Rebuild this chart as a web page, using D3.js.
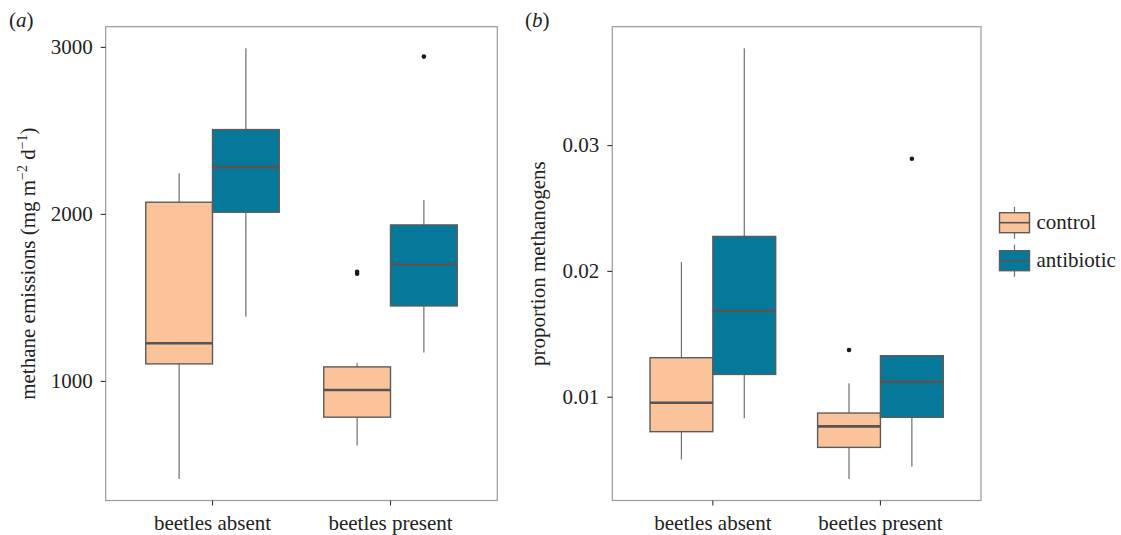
<!DOCTYPE html>
<html>
<head>
<meta charset="utf-8">
<script src="https://cdn.jsdelivr.net/npm/d3@7"></script>
<style>
    body { margin: 0; background: #fff; }
    svg text { font-family: "Liberation Serif", "Times New Roman", serif; fill: #222; }
</style>
</head>
<body>
<svg id="chart" width="1121" height="535"></svg>
<script>
// categories on the x axis and the two treatments (dodged boxes)
const categories = ['beetles absent', 'beetles present'];
const treatments = ['control', 'antibiotic'];
const treatmentColors = ['#fac39a', '#067899'];

// box stats per category: [lower whisker, Q1, median, Q3, upper whisker]
const methaneControlStats = [[413, 1102, 1226, 2070, 2244], [613, 783, 946, 1084, 1106]];
const methaneAntibioticStats = [[1385, 2010, 2280, 2505, 2992], [1170, 1449, 1696, 1934, 2084]];
const methaneControlOutliers = [[], [1654, 1642]];
const methaneAntibioticOutliers = [[], [2942]];
const methaneTicks = [1000, 2000, 3000];

const methanogenControlStats = [[0.0050, 0.00722, 0.00952, 0.0131, 0.0207], [0.00346, 0.00597, 0.00764, 0.0087, 0.01106]];
const methanogenAntibioticStats = [[0.00828, 0.01177, 0.01681, 0.02274, 0.0377], [0.00446, 0.00836, 0.01119, 0.01326, 0.01329]];
const methanogenControlOutliers = [[], [0.01371]];
const methanogenAntibioticOutliers = [[], [0.02892]];
const methanogenTicks = [0.01, 0.02, 0.03];

const svg = d3.select('#chart');

// draw one boxplot panel
function drawPanel(p) {
    const g = svg.append('g');
    const stats = [p.controlStats, p.antibioticStats];
    const outliers = [p.controlOutliers, p.antibioticOutliers];

    // ggplot-like 5% expansion of the data range
    const allVals = stats.flat(2).concat(outliers.flat(2));
    const lo = d3.min(allVals), hi = d3.max(allVals);
    const pad = (hi - lo) * 0.05;

    const y = d3.scaleLinear()
        .domain([lo - pad, hi + pad])
        .range([p.bottom, p.top]);

    const x = d3.scaleBand()
        .domain(categories)
        .range([p.left, p.right])
        .paddingInner(0.25)
        .paddingOuter(0.225);

    const xInner = d3.scaleBand()
        .domain(treatments)
        .range([0, x.bandwidth()]);

    // panel border
    g.append('rect')
        .attr('x', p.left)
        .attr('y', p.top)
        .attr('width', p.right - p.left)
        .attr('height', p.bottom - p.top)
        .attr('fill', 'none')
        .attr('stroke', '#9a9a9a')
        .attr('stroke-width', 1.2);

    // boxes
    treatments.forEach((t, ti) => {
        categories.forEach((c, ci) => {
            const s = stats[ti][ci];
            const x0 = x(c) + xInner(t);
            const w = xInner.bandwidth();
            const cx = x0 + w / 2;
            const box = g.append('g');

            box.append('line')
                .attr('x1', cx).attr('x2', cx)
                .attr('y1', y(s[4])).attr('y2', y(s[3]))
                .attr('stroke', '#6e6e6e').attr('stroke-width', 1.2);
            box.append('line')
                .attr('x1', cx).attr('x2', cx)
                .attr('y1', y(s[1])).attr('y2', y(s[0]))
                .attr('stroke', '#6e6e6e').attr('stroke-width', 1.2);

            box.append('rect')
                .attr('x', x0)
                .attr('y', y(s[3]))
                .attr('width', w)
                .attr('height', y(s[1]) - y(s[3]))
                .attr('fill', treatmentColors[ti])
                .attr('stroke', '#5c5c5c')
                .attr('stroke-width', 1.4);

            box.append('line')
                .attr('x1', x0).attr('x2', x0 + w)
                .attr('y1', y(s[2])).attr('y2', y(s[2]))
                .attr('stroke', '#555').attr('stroke-width', 2.6);

            box.selectAll('circle')
                .data(outliers[ti][ci])
                .join('circle')
                .attr('cx', cx)
                .attr('cy', d => y(d))
                .attr('r', 2.3)
                .attr('fill', '#1a1a1a');
        });
    });

    // y axis
    const yAxis = g.append('g')
        .attr('transform', `translate(${p.left},0)`)
        .call(d3.axisLeft(y).tickValues(p.ticks).tickSize(5).tickPadding(8).tickFormat(p.tickFormat));
    yAxis.select('.domain').remove();

    // x axis
    const xAxis = g.append('g')
        .attr('transform', `translate(0,${p.bottom})`)
        .call(d3.axisBottom(x).tickSize(5).tickPadding(10));
    xAxis.select('.domain').remove();

    g.selectAll('.tick line').attr('stroke', '#333').attr('stroke-width', 1.1);
    g.selectAll('.tick text')
        .attr('fill', '#222')
        .style('font-family', '"Liberation Serif", serif')
        .style('font-size', '21px');

    // y axis title
    const title = g.append('text')
        .attr('transform', `translate(${p.titleX},${(p.top + p.bottom) / 2}) rotate(-90)`)
        .attr('text-anchor', 'middle')
        .style('font-size', '21px');
    p.title(title);

    // panel letter
    g.append('text')
        .attr('x', p.letterX)
        .attr('y', 27)
        .style('font-size', '21px')
        .html(`(<tspan font-style="italic">${p.letter}</tspan>)`);
}

drawPanel({
    left: 105.7, right: 497.3, top: 26.7, bottom: 500.5,
    controlStats: methaneControlStats,
    antibioticStats: methaneAntibioticStats,
    controlOutliers: methaneControlOutliers,
    antibioticOutliers: methaneAntibioticOutliers,
    ticks: methaneTicks,
    tickFormat: d3.format('d'),
    titleX: 35,
    letter: 'a',
    letterX: 9,
    title: function (t) {
        t.append('tspan').text('methane emissions (mg m');
        t.append('tspan').attr('dy', -8).style('font-size', '14px').text('\u22122');
        t.append('tspan').attr('dy', 8).text(' d');
        t.append('tspan').attr('dy', -8).style('font-size', '14px').text('\u22121');
        t.append('tspan').attr('dy', 8).text(')');
    }
});

drawPanel({
    left: 612.3, right: 981, top: 26.7, bottom: 500.5,
    controlStats: methanogenControlStats,
    antibioticStats: methanogenAntibioticStats,
    controlOutliers: methanogenControlOutliers,
    antibioticOutliers: methanogenAntibioticOutliers,
    ticks: methanogenTicks,
    tickFormat: d3.format('.2f'),
    titleX: 545,
    letter: 'b',
    letterX: 525,
    title: function (t) {
        t.text('proportion methanogens');
    }
});

// legend
const legend = svg.append('g').attr('transform', 'translate(999.5,0)');
treatments.forEach((t, i) => {
    const cy = 222.7 + i * 38;
    const item = legend.append('g');
    item.append('line')
        .attr('x1', 15).attr('x2', 15)
        .attr('y1', cy - 16).attr('y2', cy + 16)
        .attr('stroke', '#6e6e6e').attr('stroke-width', 1.2);
    item.append('rect')
        .attr('x', 0).attr('y', cy - 10)
        .attr('width', 30).attr('height', 20)
        .attr('fill', treatmentColors[i])
        .attr('stroke', '#5c5c5c').attr('stroke-width', 1.4);
    item.append('line')
        .attr('x1', 0).attr('x2', 30)
        .attr('y1', cy).attr('y2', cy)
        .attr('stroke', '#555').attr('stroke-width', 1.6);
    item.append('text')
        .attr('x', 37)
        .attr('y', cy + 6)
        .style('font-size', '21px')
        .text(t);
});
</script>
</body>
</html>
